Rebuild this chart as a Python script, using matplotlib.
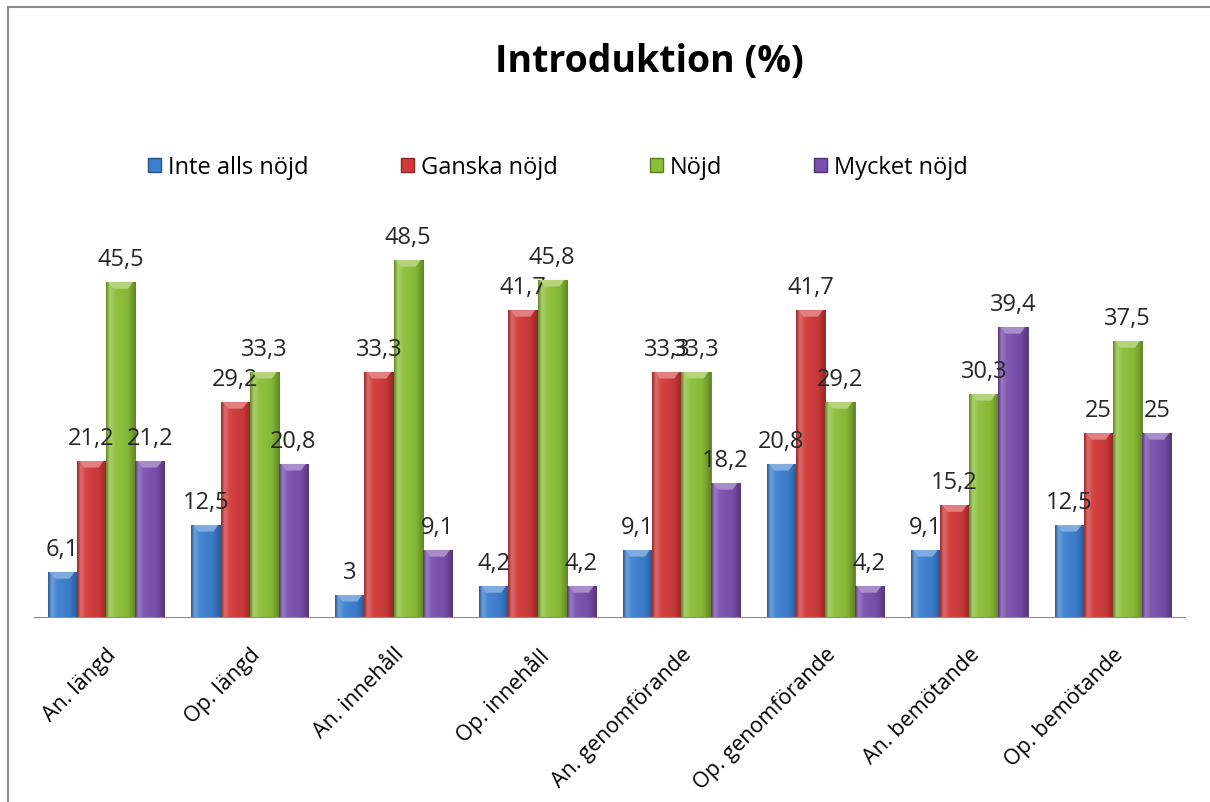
import numpy as np
import matplotlib.pyplot as plt
from matplotlib.colors import LinearSegmentedColormap, to_rgb
from matplotlib.patches import Patch, Rectangle

plt.rcParams['font.family'] = ['Open Sans', 'DejaVu Sans']

categories = ['An. längd', 'Op. längd', 'An. innehåll', 'Op. innehåll',
              'An. genomförande', 'Op. genomförande', 'An. bemötande', 'Op. bemötande']
series = ['Inte alls nöjd', 'Ganska nöjd', 'Nöjd', 'Mycket nöjd']
inte_alls = [6.1, 12.5, 3, 4.2, 9.1, 20.8, 9.1, 12.5]
ganska = [21.2, 29.2, 33.3, 41.7, 33.3, 41.7, 15.2, 25]
nojd = [45.5, 33.3, 48.5, 45.8, 33.3, 29.2, 30.3, 37.5]
mycket = [21.2, 20.8, 9.1, 4.2, 18.2, 4.2, 39.4, 25]
values = [inte_alls, ganska, nojd, mycket]
colors = ['#3d7fcf', '#d23a3a', '#8cbf38', '#7a4fae']


def fmt(v):
    s = ('%.1f' % v).rstrip('0').rstrip('.')
    return s.replace('.', ',')


def shade(c, f):
    r = np.array(to_rgb(c))
    if f < 1:
        return tuple(r * f)
    return tuple(r + (1 - r) * (f - 1))


fig = plt.figure(figsize=(12.1, 8.03), dpi=100)
# outer chart frame
fig.patches.append(Rectangle((8 / 1210, -0.1), 1.2, (803 - 8) / 803 + 0.1,
                             transform=fig.transFigure, fill=False,
                             edgecolor='#8c8c8c', linewidth=1.5))

ax = fig.add_axes([34 / 1210, (803 - 618) / 803, (1185 - 34) / 1210, 368 / 803])
x = np.arange(len(categories))
w = 0.203

for i, (vals, c) in enumerate(zip(values, colors)):
    cmap = LinearSegmentedColormap.from_list(
        'g%d' % i, [(0, shade(c, 0.72)), (0.12, shade(c, 1.25)), (0.3, shade(c, 1.05)),
                    (0.75, shade(c, 0.95)), (1, shade(c, 0.7))])
    grad = np.linspace(0, 1, 64).reshape(1, -1)
    xs = x + (i - 1.5) * w
    bars = ax.bar(xs, vals, width=w, color=c, edgecolor=shade(c, 0.65), linewidth=0.6)
    for b, v in zip(bars, vals):
        x0 = b.get_x()
        im = ax.imshow(grad, extent=[x0, x0 + w, 0, v], aspect='auto', cmap=cmap,
                       origin='lower', zorder=2)
        im.set_clip_path(b)
        # bevel highlight at the top
        ax.fill([x0 + w * 0.08, x0 + w * 0.92, x0 + w * 0.75, x0 + w * 0.25],
                [v, v, v - 0.9, v - 0.9], color=shade(c, 1.35), zorder=3, lw=0)
        ax.annotate(fmt(v), (b.get_x() + w / 2, v), xytext=(0, 8),
                    textcoords='offset points', ha='center', va='bottom',
                    fontsize=17, color='#262626')

ax.set_xlim(-0.5, len(categories) - 0.5)
ax.set_ylim(0, 50)
ax.set_xticks(x)
ax.set_xticklabels(categories, rotation=45, ha='right', rotation_mode='anchor',
                   fontsize=15.5)
ax.tick_params(axis='x', length=0, pad=19)
ax.set_yticks([])
for s in ['top', 'right', 'left']:
    ax.spines[s].set_visible(False)
ax.spines['bottom'].set_color('#8c8c8c')

fig.text(649 / 1210, (803 - 62) / 803, 'Introduktion (%)', ha='center', va='center',
         fontsize=27, fontweight='bold')

handles = [Patch(facecolor=c, edgecolor=shade(c, 0.65)) for c in colors]
fig.legend(handles, series, loc='center', bbox_to_anchor=(558 / 1210, (803 - 168) / 803),
           ncol=4, frameon=False, fontsize=17, handlelength=0.55, handleheight=0.55,
           handletextpad=0.3, columnspacing=3.9)

fig.savefig('out.png', dpi=100)
